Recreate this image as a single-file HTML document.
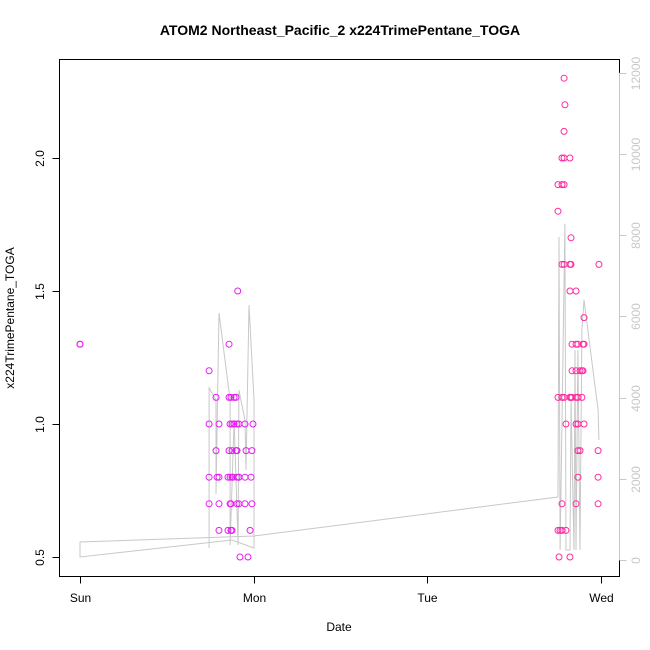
<!DOCTYPE html>
<html><head><meta charset="utf-8"><style>
html,body{margin:0;padding:0;background:#fff}
svg{display:block;font-family:"Liberation Sans",sans-serif}
</style></head><body>
<svg id="chart" width="650" height="650" viewBox="0 0 650 650">
<rect x="0" y="0" width="650" height="650" fill="#fff"/>
<text x="340" y="35" font-size="14" font-weight="bold" text-anchor="middle">ATOM2 Northeast_Pacific_2 x224TrimePentane_TOGA</text>
<g id="gline"></g>
<g id="pts"></g>
<rect x="59.5" y="59.5" width="560" height="517" fill="none" stroke="#000"/>
<g id="axes"></g>
<text x="339" y="631" font-size="12" text-anchor="middle">Date</text>
<text transform="translate(14,318) rotate(-90)" font-size="12" text-anchor="middle">x224TrimePentane_TOGA</text>
</svg>
<script>
const NS="http://www.w3.org/2000/svg";
// x tick labels (days since Sunday)
const xTickDays=[0,1,2,3];
const xTickLabels=["Sun","Mon","Tue","Wed"];
const yTicks=[0.5,1.0,1.5,2.0];
const yTickLabels=["0.5","1.0","1.5","2.0"];
const y2Ticks=[0,2000,4000,6000,8000,10000,12000];
// point series: day, value
const ptDays=[0,0,
0.909,0.859,0.744,
0.784,0.859,0.870,0.888,0.899,
0.744,0.801,0.865,0.876,0.888,0.905,0.916,0.951,0.997,
0.784,0.859,0.876,0.899,0.905,0.957,0.991,
0.744,0.790,0.801,0.853,0.865,0.876,0.882,0.905,0.916,0.916,0.951,0.986,
0.744,0.801,0.865,0.870,0.905,0.916,0.951,0.991,
0.801,0.853,0.870,0.876,0.980,
0.922,0.968,
2.790,2.795,2.790,
2.778,2.790,2.824,
2.755,2.778,2.790,
2.755,
2.830,
2.778,2.790,2.824,2.830,2.991,
2.824,2.859,
2.905,
2.836,2.859,2.870,2.899,2.905,
2.836,2.859,2.882,2.893,2.899,
2.755,2.778,2.790,2.824,2.830,2.836,2.859,2.870,2.893,
2.801,2.859,2.870,2.905,
2.870,2.882,2.986,
2.870,2.986,
2.778,2.859,2.986,
2.755,2.767,2.778,2.801,
2.761,2.824];
const ptValues=[1.3,1.3,
1.5,1.3,1.2,
1.1,1.1,1.1,1.1,1.1,
1.0,1.0,1.0,1.0,1.0,1.0,1.0,1.0,1.0,
0.9,0.9,0.9,0.9,0.9,0.9,0.9,
0.8,0.8,0.8,0.8,0.8,0.8,0.8,0.8,0.8,0.8,0.8,0.8,
0.7,0.7,0.7,0.7,0.7,0.7,0.7,0.7,
0.6,0.6,0.6,0.6,0.6,
0.5,0.5,
2.3,2.2,2.1,
2.0,2.0,2.0,
1.9,1.9,1.9,
1.8,
1.7,
1.6,1.6,1.6,1.6,1.6,
1.5,1.5,
1.4,
1.3,1.3,1.3,1.3,1.3,
1.2,1.2,1.2,1.2,1.2,
1.1,1.1,1.1,1.1,1.1,1.1,1.1,1.1,1.1,
1.0,1.0,1.0,1.0,
0.9,0.9,0.9,
0.8,0.8,
0.7,0.7,0.7,
0.6,0.6,0.6,0.6,
0.5,0.5];
// secondary series (right axis)
const lineDays=[0.744,0.744,0.784,0.784,0.801,0.865,0.865,0.888,0.911,0.916,0.951,0.957,0.974,1.003,1.003,0.876,0,0,1.003,2.755,2.761,2.767,2.795,2.801,2.824,2.830,2.847,2.853,2.859,2.870,2.882,2.893,2.905,2.986,2.991];
const lineValues=[296,4236,3941,1626,6084,3941,369,3448,369,4187,3448,2217,6281,3941,296,493,74,443,591,1552,7955,246,8276,246,246,3941,246,5172,246,5172,246,5665,6404,3695,2956];

const xS=d=>80+d*173.5;
const yS=v=>557-(v-0.5)*266;
const y2S=v=>560-v*0.0406;

const gl=document.getElementById('gline');
let dstr="";
lineDays.forEach((d,i)=>{dstr+=(i?"L":"M")+xS(d).toFixed(1)+","+y2S(lineValues[i]).toFixed(1);});
const path=document.createElementNS(NS,'path');
path.setAttribute('d',dstr);path.setAttribute('fill','none');path.setAttribute('stroke','#c8c8c8');path.setAttribute('stroke-width','1');


gl.appendChild(path);

const pg=document.getElementById('pts');
ptDays.forEach((d,i)=>{
  const c=document.createElementNS(NS,'circle');
  c.setAttribute('cx',xS(d));c.setAttribute('cy',yS(ptValues[i]));c.setAttribute('r','3');
  c.setAttribute('fill','none');
  c.setAttribute('stroke',d<0.5?'#f010f0':(d<2?'#e41ef0':'#ff2aa0'));
  c.setAttribute('stroke-width','1');
  
  
  pg.appendChild(c);
});

const ax=document.getElementById('axes');
function line(x1,y1,x2,y2,col,name){const l=document.createElementNS(NS,'line');l.setAttribute('x1',x1);l.setAttribute('y1',y1);l.setAttribute('x2',x2);l.setAttribute('y2',y2);l.setAttribute('stroke',col);


ax.appendChild(l);}
function text(x,y,s,col,rot,name){const t=document.createElementNS(NS,'text');t.setAttribute('font-size','12');t.setAttribute('fill',col);t.setAttribute('text-anchor','middle');
if(rot){t.setAttribute('transform','translate('+x+','+y+') rotate(-90)');}else{t.setAttribute('x',x);t.setAttribute('y',y);}
t.textContent=s;


ax.appendChild(t);}
line(xS(0),576.5,xS(3),576.5,'#000','x-axis-line');
xTickDays.forEach((d,i)=>{const x=Math.round(xS(d))+0.5;line(x,576.5,x,583.5,'#000','x-tick');text(x,602,xTickLabels[i],'#000',false,'x-tick-label');});
line(59.5,yS(0.5),59.5,yS(2.0),'#000','y-axis-line');
yTicks.forEach((v,i)=>{const y=Math.round(yS(v))+0.5;line(52.5,y,59.5,y,'#000','y-tick');text(44,y,yTickLabels[i],'#000',true,'y-tick-label');});
line(619.5,y2S(0),619.5,y2S(12000),'#c8c8c8','right-axis-line');
y2Ticks.forEach(v=>{const y=Math.round(y2S(v))+0.5;line(619.5,y,626.5,y,'#c8c8c8','right-tick');text(640,y,String(v),'#c8c8c8',true,'right-tick-label');});
</script>
</body></html>
